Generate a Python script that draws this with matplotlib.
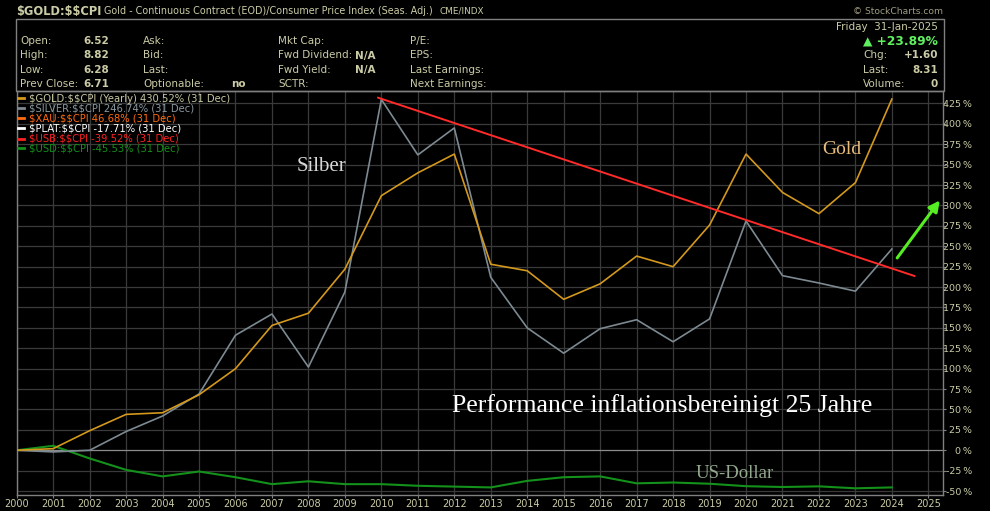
"""
Gold / Silver / USD performance vs CPI, 25 years - StockCharts style recreation.
"""

import matplotlib
matplotlib.use("Agg")
import matplotlib.pyplot as plt
from matplotlib.patches import Rectangle

W, H = 990, 511

years = list(range(2000, 2025))
gold_pct = [0, 2, 24, 44, 46, 68, 100, 153, 168, 222, 312, 340, 363,
            228, 220, 185, 204, 238, 225, 276, 363, 316, 290, 328, 430.5]
silver_pct = [0, -2, 0, 23, 42, 69, 141, 167, 102, 194, 430, 362, 395,
              212, 150, 119, 149, 160, 133, 161, 281, 214, 205, 195, 246.7]
usd_pct = [0, 5.5, -10, -24, -32, -26, -33, -41.5, -38, -41.5, -41.5, -43.5, -44.5,
           -45.5, -37.5, -33, -32, -40.5, -39.5, -41, -44, -45, -44.2, -46.6, -45.5]

trend_x = [2009.91, 2024.62]
trend_y = [432.1, 213.6]

legend_labels = [
    "$GOLD:$$CPI (Yearly) 430.52% (31 Dec)",
    "$SILVER:$$CPI 246.74% (31 Dec)",
    "$XAU:$$CPI 46.68% (31 Dec)",
    "$PLAT:$$CPI -17.71% (31 Dec)",
    "$USB:$$CPI -39.52% (31 Dec)",
    "$USD:$$CPI -45.53% (31 Dec)",
]
legend_line_colors = ["#d4991c", "#7d8a92", "#ff6a10", "#ffffff", "#ff2020", "#13911a"]
legend_text_colors = ["#c8c8a0", "#8a98a0", "#ff6a10", "#ffffff", "#ff2020", "#13911a"]

info_cols = [
    (20, ["Open:", "High:", "Low:", "Prev Close:"]),
    (143, ["Ask:", "Bid:", "Last:", "Optionable:"]),
    (278, ["Mkt Cap:", "Fwd Dividend:", "Fwd Yield:", "SCTR:"]),
    (410, ["P/E:", "EPS:", "Last Earnings:", "Next Earnings:"]),
]
open_vals = ["6.52", "8.82", "6.28", "6.71"]

BEIGE = "#cbcba6"
GRID = "#3a3a3a"
FRAME = "#808080"


def fx(x):
    return x / W


def fy(y):
    return 1 - y / H


def main():
    fig = plt.figure(figsize=(W / 100, H / 100), dpi=100, facecolor="black")

    # header
    fig.text(fx(16), fy(11), "$GOLD:$$CPI", color=BEIGE, fontsize=8.3, fontweight="bold",
             va="center", parse_math=False)
    fig.text(fx(104), fy(11), "Gold - Continuous Contract (EOD)/Consumer Price Index (Seas. Adj.)",
             color=BEIGE, fontsize=6.95, va="center")
    fig.text(fx(440), fy(11), "CME/INDX", color=BEIGE, fontsize=6.4, va="center")
    fig.text(fx(943), fy(12), "\u00a9 StockCharts.com", color="#a09c80", fontsize=6.6,
             va="center", ha="right")

    fig.patches.append(Rectangle((fx(16), fy(91)), fx(944) - fx(16), fy(19) - fy(91),
                                 transform=fig.transFigure, fill=False,
                                 edgecolor=FRAME, lw=1))

    hs = 7.5
    rows_y = [41, 55.5, 70, 84]
    for x0, labels in info_cols:
        for y0, lab in zip(rows_y, labels):
            fig.text(fx(x0), fy(y0), lab, color=BEIGE, fontsize=hs, va="center")
    for y0, v in zip(rows_y, open_vals):
        fig.text(fx(109), fy(y0), v, color=BEIGE, fontsize=hs, fontweight="bold",
                 va="center", ha="right")
    fig.text(fx(231), fy(84), "no", color=BEIGE, fontsize=hs, fontweight="bold", va="center")
    for y0 in rows_y[1:3]:
        fig.text(fx(376), fy(y0), "N/A", color=BEIGE, fontsize=hs, fontweight="bold",
                 va="center", ha="right")

    fig.text(fx(938), fy(27), "Friday  31-Jan-2025", color=BEIGE, fontsize=hs,
             va="center", ha="right")
    fig.text(fx(938), fy(41.5), "\u25b2 +23.89%", color="#5ff05f", fontsize=8.8,
             fontweight="bold", va="center", ha="right")
    for y0, lab, v in zip(rows_y[1:], ["Chg:", "Last:", "Volume:"], ["+1.60", "8.31", "0"]):
        fig.text(fx(863), fy(y0), lab, color=BEIGE, fontsize=hs, va="center")
        fig.text(fx(938), fy(y0), v, color=BEIGE, fontsize=hs, fontweight="bold",
                 va="center", ha="right")

    # main chart
    ax = fig.add_axes([fx(16.7), fy(495), fx(943.3) - fx(16.7), fy(91) - fy(495)])
    ax.set_facecolor("black")
    ax.set_xlim(2000, 2025.41)
    ax.set_ylim(-54.8, 440.3)

    for yr in range(2000, 2026):
        ax.axvline(yr, color=GRID, lw=0.9, zorder=1)
    for v in range(-50, 426, 25):
        ax.axhline(v, color="#8c8c8c" if v == 0 else GRID, lw=0.9, zorder=1)

    ax.plot(years, usd_pct, color="#13911a", lw=1.5, zorder=3)
    ax.plot(years, silver_pct, color="#7d8a92", lw=1.2, zorder=3)
    ax.plot(years, gold_pct, color="#d4991c", lw=1.2, zorder=4)
    ax.plot(trend_x, trend_y, color="#ff2a2a", lw=1.4, zorder=5)

    ax.annotate("", xy=(2025.36, 309), xytext=(2024.1, 233), annotation_clip=False,
                arrowprops=dict(arrowstyle="-|>", color="#55ee22", lw=2.2,
                                mutation_scale=16), zorder=6)

    serif = ["Liberation Serif", "DejaVu Serif"]
    ax.text(2008.35, 348, "Silber", color="#d8d8d8", fontsize=15, family=serif,
            ha="center", va="center", zorder=6)
    ax.text(2022.62, 368, "Gold", color="#ebbb7c", fontsize=14, family=serif,
            ha="center", va="center", zorder=6)
    ax.text(2017.69, 55, "Performance inflationsbereinigt 25 Jahre", color="white",
            fontsize=18.5, family=serif, ha="center", va="center", zorder=6)
    ax.text(2019.69, -28, "US-Dollar", color="#93aa8e", fontsize=13.5, family=serif,
            ha="center", va="center", zorder=6)

    # legend block
    for i, (lab, lc, tc) in enumerate(zip(legend_labels, legend_line_colors, legend_text_colors)):
        y0 = 98.5 + i * 10
        fig.lines.append(plt.Line2D([fx(18), fx(24)], [fy(y0), fy(y0)], color=lc, lw=2,
                                    transform=fig.transFigure))
        fig.text(fx(29), fy(y0), lab, color=tc, fontsize=7.2, va="center", parse_math=False)

    for s in ax.spines.values():
        s.set_color(FRAME)
        s.set_linewidth(1)

    ax.yaxis.tick_right()
    ax.set_yticks(range(-50, 426, 25))
    ax.set_yticklabels([f"{v}\u2009%" for v in range(-50, 426, 25)])
    ax.tick_params(axis="y", colors=FRAME, labelcolor=BEIGE, labelsize=6.8,
                   length=2.5, pad=18)
    for t in ax.get_yticklabels():
        t.set_horizontalalignment("right")

    ax.set_xticks(range(2000, 2026))
    ax.set_xticklabels([str(y) for y in range(2000, 2026)])
    ax.tick_params(axis="x", colors=FRAME, labelcolor=BEIGE, labelsize=7, length=2, pad=1)

    fig.savefig("out.png", dpi=100, facecolor="black")


if __name__ == "__main__":
    main()
